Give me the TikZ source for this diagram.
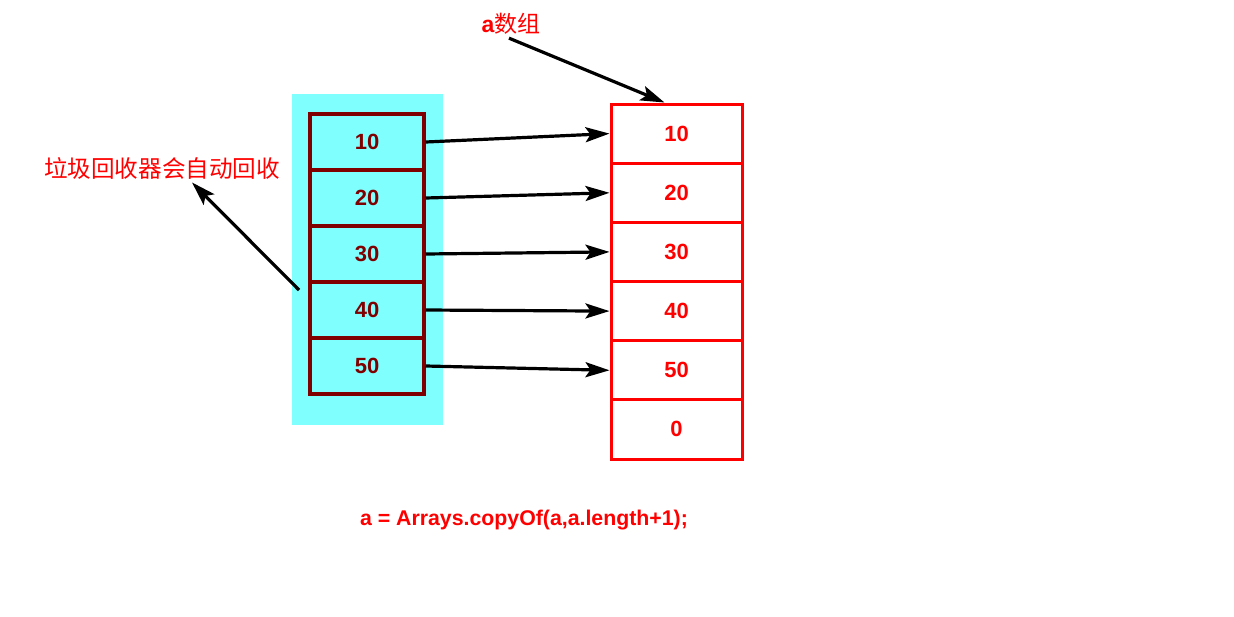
\documentclass[tikz,border=0pt]{standalone}
\usepackage{fontspec}
\setmainfont{Liberation Sans}
\newfontfamily\cjk{Noto Sans CJK SC}
\usetikzlibrary{arrows.meta,shadows}
\definecolor{cellred}{HTML}{FF0000}
\definecolor{oldred}{HTML}{800000}
\definecolor{oldbg}{HTML}{80FFFF}
\tikzset{
  oldcell/.style={draw=oldred, line width=3.5pt, fill=oldbg, inner sep=0pt,
    minimum width=114pt, minimum height=55.6pt, text=oldred,
    font=\bfseries\fontsize{22}{26}\selectfont,
    drop shadow={opacity=0.25, shadow xshift=2pt, shadow yshift=-2pt}},
  newcell/.style={draw=cellred, line width=3pt, fill=white, inner sep=0pt,
    minimum width=131pt, minimum height=59.2pt, text=cellred,
    font=\bfseries\fontsize{22}{26}\selectfont,
    drop shadow={opacity=0.25, shadow xshift=2pt, shadow yshift=-2pt}},
  copyarrow/.style={line width=3.2pt, -{Stealth[length=24pt,width=15pt,inset=5pt]}},
}
\begin{document}
\begin{tikzpicture}[x=1pt,y=-1pt]
\useasboundingbox (0,0) rectangle (1234,616);
% old array a
\fill[oldbg] (292,94) rectangle (443,425);
\foreach \i/\y/\v in {1/142/10, 2/198/20, 3/254/30, 4/310/40, 5/366/50}
  \node[oldcell] (l\i) at (367,\y) {\v};
% new array after copyOf
\foreach \i/\y/\v in {1/133.6/10, 2/192.8/20, 3/251.9/30, 4/311.1/40, 5/370.3/50, 6/429.4/0}
  \node[newcell] (r\i) at (676.5,\y) {\v};
% copy arrows
\foreach \i in {1,...,5}
  \draw[copyarrow] (l\i.east) -- (r\i.west);
% labels
\node[text=cellred, font=\fontsize{23}{27}\selectfont] (arr) at (511,24) {\textbf{a}{\cjk 数组}};
\draw[copyarrow] ([xshift=-2pt]arr.south) -- ([xshift=-12pt]r1.north);
\node[text=cellred, font=\cjk\fontsize{23.6}{27}\selectfont] (gc) at (162,168) {垃圾回收器会自动回收};
\coordinate (gcfrom) at (299,290);
\draw[copyarrow] (gcfrom) -- ([xshift=30pt]gc.south);
\node[text=cellred, font=\bfseries\fontsize{21.3}{25}\selectfont] (code) at (524,520) {a = Arrays.copyOf(a,a.length+1);};
\end{tikzpicture}
\end{document}
